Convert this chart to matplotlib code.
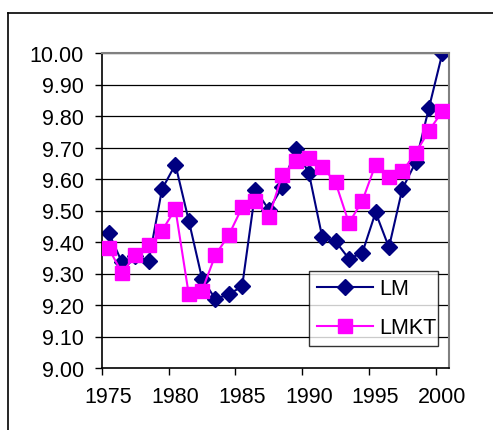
import matplotlib
matplotlib.use("Agg")
import matplotlib.pyplot as plt
from matplotlib.lines import Line2D

years = list(range(1975, 2001))
lm = [9.43, 9.335, 9.355, 9.34, 9.568, 9.646, 9.468, 9.283, 9.219, 9.234, 9.259,
      9.565, 9.503, 9.574, 9.695, 9.619, 9.416, 9.402, 9.347, 9.365, 9.494,
      9.383, 9.568, 9.653, 9.826, 9.999]
lmkt = [9.380, 9.302, 9.359, 9.390, 9.436, 9.505, 9.234, 9.246, 9.359, 9.422,
        9.510, 9.531, 9.478, 9.613, 9.656, 9.666, 9.639, 9.589, 9.460, 9.530,
        9.646, 9.607, 9.624, 9.683, 9.753, 9.815]
y_ticks = [9.0 + 0.1 * i for i in range(11)]
x_labels = [1975, 1980, 1985, 1990, 1995, 2000]

plt.rcParams['font.family'] = ['Liberation Sans', 'DejaVu Sans']
FS = 15.5

fig = plt.figure(figsize=(4.93, 4.31), dpi=100)
fig.patch.set_facecolor('white')
# chart-area border (partly cut off at right/bottom)
fig.add_artist(Line2D([8/493, 8/493], [0, 1 - 14/431], color='black', lw=1.2, transform=fig.transFigure))
fig.add_artist(Line2D([8/493, 1], [1 - 14/431, 1 - 14/431], color='black', lw=1.2, transform=fig.transFigure))

ax = fig.add_axes([102/493, 1 - 369/431, (449 - 102)/493, 315/431])
ax.set_xlim(1974.5, 2000.5)
ax.set_ylim(9.0, 10.0)

for yv in y_ticks[1:]:
    ax.axhline(yv, color='black', lw=0.9, zorder=1)

ax.plot(years, lm, color='#000080', lw=1.5, marker='D', markersize=8.5,
        markerfacecolor='#000080', markeredgecolor='#000080', label='LM', zorder=2)
ax.plot(years, lmkt, color='#FF00FF', lw=1.5, marker='s', markersize=9.5,
        markerfacecolor='#FF00FF', markeredgecolor='#FF00FF', label='LMKT', zorder=3)

ax.set_yticks(y_ticks)
ax.set_yticklabels([f"{v:.2f}" for v in y_ticks], fontsize=FS)
ax.set_xticks([x - 0.5 for x in x_labels])
ax.set_xticklabels([])
ax.set_xticks(x_labels, minor=True)
ax.set_xticklabels([str(x) for x in x_labels], minor=True, fontsize=FS)
ax.tick_params(axis='x', which='minor', length=0, pad=13)
ax.tick_params(axis='x', which='major', length=5, direction='out', width=1)
ax.tick_params(axis='y', length=5, direction='out', width=1, pad=8)

for s in ['top', 'right']:
    ax.spines[s].set_color('#808080')
    ax.spines[s].set_linewidth(1.5)
for s in ['left', 'bottom']:
    ax.spines[s].set_color('black')
    ax.spines[s].set_linewidth(1.2)

leg = ax.legend(loc='lower left', bbox_to_anchor=((309 - 102)/347, (369 - 347)/315,
                (438 - 309)/347, (347 - 269)/315), mode='expand',
                fontsize=FS, frameon=True, fancybox=False, edgecolor='black',
                handlelength=2.6, handletextpad=0.3, borderaxespad=0,
                labelspacing=0.85, borderpad=0.35)
leg.get_frame().set_linewidth(1.0)
leg.set_zorder(5)

fig.savefig('out.png', dpi=100, facecolor='white')
